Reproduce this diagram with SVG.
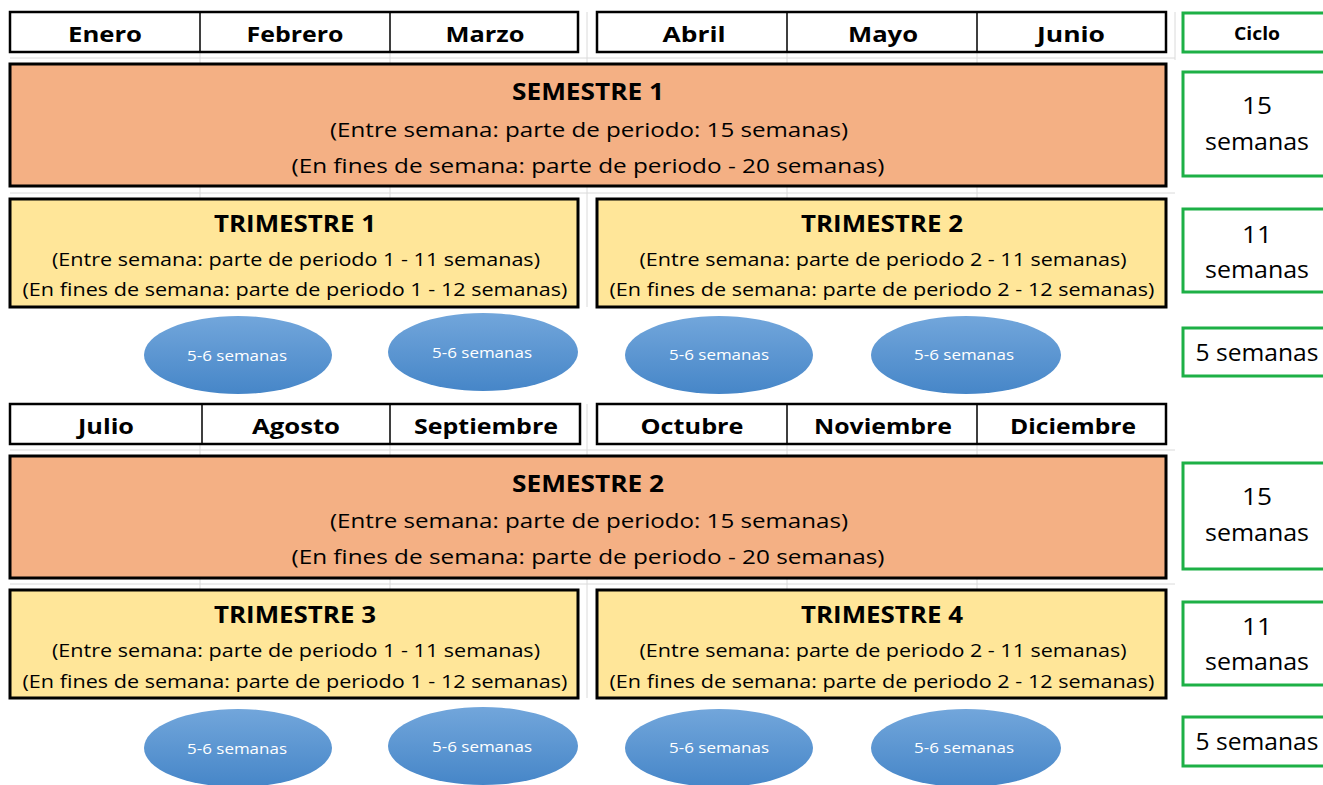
<svg xmlns="http://www.w3.org/2000/svg" width="1323" height="785" viewBox="0 0 1323 785">
<style>
.grid{stroke:#DADADA;stroke-width:1}
.mo{fill:#fff;stroke:#000;stroke-width:2.5}
.div{stroke:#000;stroke-width:1.5}
text{font-family:"Open Sans",Lato,"Liberation Sans",sans-serif;text-anchor:middle;fill:#000}
.mt{font-weight:bold;font-size:22px}
.sem{fill:#F4B084;stroke:#000;stroke-width:3}
.tri{fill:#FFE699;stroke:#000;stroke-width:3}
.h{font-weight:bold;font-size:23px}
.s1{font-size:20px}
.s2{font-size:17.5px}
.gb{fill:#fff;stroke:#1DB046;stroke-width:3}
.gt{font-size:24px}
.el{fill:url(#bl)}
.et{font-size:14px;fill:#fff}
</style>
<defs>
<linearGradient id="bl" x1="0" y1="0" x2="0" y2="1">
<stop offset="0" stop-color="#72A6DB"/>
<stop offset="1" stop-color="#4686C8"/>
</linearGradient>
</defs>
<rect width="1323" height="785" fill="#fff"/>
<g id="gridlines">
<path class="grid" d="M200 12V307M390 12V307M587 12V307M787 12V307M977 12V307M1175 12V60M200 404V698M390 404V698M587 404V698M787 404V698M977 404V698M10 58H1175M10 193H1175M10 450H1175M10 584H1175"/>
</g>
<g id="months1">
<rect class="mo" x="10" y="12" width="568" height="40"/>
<path class="div" d="M200 12V52M390 12V52"/>
<text class="mt" x="105" y="42" textLength="74" lengthAdjust="spacingAndGlyphs">Enero</text>
<text class="mt" x="295" y="42" textLength="97" lengthAdjust="spacingAndGlyphs">Febrero</text>
<text class="mt" x="485" y="42" textLength="79" lengthAdjust="spacingAndGlyphs">Marzo</text>
<rect class="mo" x="597" y="12" width="569" height="40"/>
<path class="div" d="M787 12V52M977 12V52"/>
<text class="mt" x="694" y="42" textLength="63" lengthAdjust="spacingAndGlyphs">Abril</text>
<text class="mt" x="883" y="42" textLength="70" lengthAdjust="spacingAndGlyphs">Mayo</text>
<text class="mt" x="1071" y="42" textLength="68" lengthAdjust="spacingAndGlyphs">Junio</text>
</g>
<g id="ciclo">
<rect class="gb" x="1183" y="13" width="145" height="39"/>
<text x="1257" y="40" font-weight="bold" font-size="17" textLength="46" lengthAdjust="spacingAndGlyphs">Ciclo</text>
</g>
<g id="semestre1">
<rect class="sem" x="10" y="64" width="1156" height="122"/>
<text class="h" x="588" y="100" textLength="152" lengthAdjust="spacingAndGlyphs">SEMESTRE 1</text>
<text class="s1" x="589" y="137" textLength="518" lengthAdjust="spacingAndGlyphs">(Entre semana: parte de periodo: 15 semanas)</text>
<text class="s1" x="588" y="173" textLength="593" lengthAdjust="spacingAndGlyphs">(En fines de semana: parte de periodo - 20 semanas)</text>
</g>
<g id="c15a">
<rect class="gb" x="1183" y="72" width="145" height="104"/>
<text class="gt" x="1257" y="114" textLength="30" lengthAdjust="spacingAndGlyphs">15</text>
<text class="gt" x="1257" y="150" textLength="104" lengthAdjust="spacingAndGlyphs">semanas</text>
</g>
<g id="trimestre1">
<rect class="tri" x="10" y="199" width="568" height="108"/>
<text class="h" x="295" y="232" textLength="162" lengthAdjust="spacingAndGlyphs">TRIMESTRE 1</text>
<text class="s2" x="296" y="266" textLength="488" lengthAdjust="spacingAndGlyphs">(Entre semana: parte de periodo 1 - 11 semanas)</text>
<text class="s2" x="295" y="296" textLength="545" lengthAdjust="spacingAndGlyphs">(En fines de semana: parte de periodo 1 - 12 semanas)</text>
</g>
<g id="trimestre2">
<rect class="tri" x="597" y="199" width="569" height="108"/>
<text class="h" x="882" y="232" textLength="162" lengthAdjust="spacingAndGlyphs">TRIMESTRE 2</text>
<text class="s2" x="883" y="266" textLength="487" lengthAdjust="spacingAndGlyphs">(Entre semana: parte de periodo 2 - 11 semanas)</text>
<text class="s2" x="882" y="296" textLength="545" lengthAdjust="spacingAndGlyphs">(En fines de semana: parte de periodo 2 - 12 semanas)</text>
</g>
<g id="c11a">
<rect class="gb" x="1183" y="209" width="145" height="83"/>
<text class="gt" x="1257" y="243" textLength="30" lengthAdjust="spacingAndGlyphs">11</text>
<text class="gt" x="1257" y="278" textLength="104" lengthAdjust="spacingAndGlyphs">semanas</text>
</g>
<g id="e1"><ellipse class="el" cx="238" cy="355" rx="94" ry="39"/><text class="et" x="237" y="361" textLength="100" lengthAdjust="spacingAndGlyphs">5-6 semanas</text></g>
<g id="e2"><ellipse class="el" cx="483" cy="352" rx="95" ry="39"/><text class="et" x="482" y="358" textLength="100" lengthAdjust="spacingAndGlyphs">5-6 semanas</text></g>
<g id="e3"><ellipse class="el" cx="719" cy="355" rx="94" ry="39"/><text class="et" x="719" y="360" textLength="100" lengthAdjust="spacingAndGlyphs">5-6 semanas</text></g>
<g id="e4"><ellipse class="el" cx="966" cy="355" rx="95" ry="39"/><text class="et" x="964" y="360" textLength="100" lengthAdjust="spacingAndGlyphs">5-6 semanas</text></g>
<g id="c5a">
<rect class="gb" x="1183" y="328" width="145" height="48"/>
<text class="gt" x="1257" y="361" textLength="123" lengthAdjust="spacingAndGlyphs">5 semanas</text>
</g>
<g id="months2">
<rect class="mo" x="10" y="404" width="570" height="40"/>
<path class="div" d="M202 404V444M390 404V444"/>
<text class="mt" x="106" y="434" textLength="56" lengthAdjust="spacingAndGlyphs">Julio</text>
<text class="mt" x="296" y="434" textLength="88" lengthAdjust="spacingAndGlyphs">Agosto</text>
<text class="mt" x="486" y="434" textLength="144" lengthAdjust="spacingAndGlyphs">Septiembre</text>
<rect class="mo" x="597" y="404" width="569" height="40"/>
<path class="div" d="M787 404V444M977 404V444"/>
<text class="mt" x="692" y="434" textLength="103" lengthAdjust="spacingAndGlyphs">Octubre</text>
<text class="mt" x="883" y="434" textLength="138" lengthAdjust="spacingAndGlyphs">Noviembre</text>
<text class="mt" x="1073" y="434" textLength="126" lengthAdjust="spacingAndGlyphs">Diciembre</text>
</g>
<g id="semestre2">
<rect class="sem" x="10" y="456" width="1156" height="122"/>
<text class="h" x="588" y="492" textLength="152" lengthAdjust="spacingAndGlyphs">SEMESTRE 2</text>
<text class="s1" x="589" y="528" textLength="518" lengthAdjust="spacingAndGlyphs">(Entre semana: parte de periodo: 15 semanas)</text>
<text class="s1" x="588" y="564" textLength="593" lengthAdjust="spacingAndGlyphs">(En fines de semana: parte de periodo - 20 semanas)</text>
</g>
<g id="c15b">
<rect class="gb" x="1183" y="463" width="145" height="106"/>
<text class="gt" x="1257" y="505" textLength="30" lengthAdjust="spacingAndGlyphs">15</text>
<text class="gt" x="1257" y="541" textLength="104" lengthAdjust="spacingAndGlyphs">semanas</text>
</g>
<g id="trimestre3">
<rect class="tri" x="10" y="590" width="568" height="108"/>
<text class="h" x="295" y="623" textLength="162" lengthAdjust="spacingAndGlyphs">TRIMESTRE 3</text>
<text class="s2" x="296" y="657" textLength="488" lengthAdjust="spacingAndGlyphs">(Entre semana: parte de periodo 1 - 11 semanas)</text>
<text class="s2" x="295" y="688" textLength="545" lengthAdjust="spacingAndGlyphs">(En fines de semana: parte de periodo 1 - 12 semanas)</text>
</g>
<g id="trimestre4">
<rect class="tri" x="597" y="590" width="569" height="108"/>
<text class="h" x="882" y="623" textLength="162" lengthAdjust="spacingAndGlyphs">TRIMESTRE 4</text>
<text class="s2" x="883" y="657" textLength="487" lengthAdjust="spacingAndGlyphs">(Entre semana: parte de periodo 2 - 11 semanas)</text>
<text class="s2" x="882" y="688" textLength="545" lengthAdjust="spacingAndGlyphs">(En fines de semana: parte de periodo 2 - 12 semanas)</text>
</g>
<g id="c11b">
<rect class="gb" x="1183" y="602" width="145" height="83"/>
<text class="gt" x="1257" y="635" textLength="30" lengthAdjust="spacingAndGlyphs">11</text>
<text class="gt" x="1257" y="670" textLength="104" lengthAdjust="spacingAndGlyphs">semanas</text>
</g>
<g id="e5"><ellipse class="el" cx="238" cy="748" rx="94" ry="39"/><text class="et" x="237" y="754" textLength="100" lengthAdjust="spacingAndGlyphs">5-6 semanas</text></g>
<g id="e6"><ellipse class="el" cx="483" cy="746" rx="95" ry="39"/><text class="et" x="482" y="752" textLength="100" lengthAdjust="spacingAndGlyphs">5-6 semanas</text></g>
<g id="e7"><ellipse class="el" cx="719" cy="748" rx="94" ry="39"/><text class="et" x="719" y="753" textLength="100" lengthAdjust="spacingAndGlyphs">5-6 semanas</text></g>
<g id="e8"><ellipse class="el" cx="966" cy="748" rx="95" ry="39"/><text class="et" x="964" y="753" textLength="100" lengthAdjust="spacingAndGlyphs">5-6 semanas</text></g>
<g id="c5b">
<rect class="gb" x="1183" y="717" width="145" height="49"/>
<text class="gt" x="1257" y="750" textLength="123" lengthAdjust="spacingAndGlyphs">5 semanas</text>
</g>
</svg>
